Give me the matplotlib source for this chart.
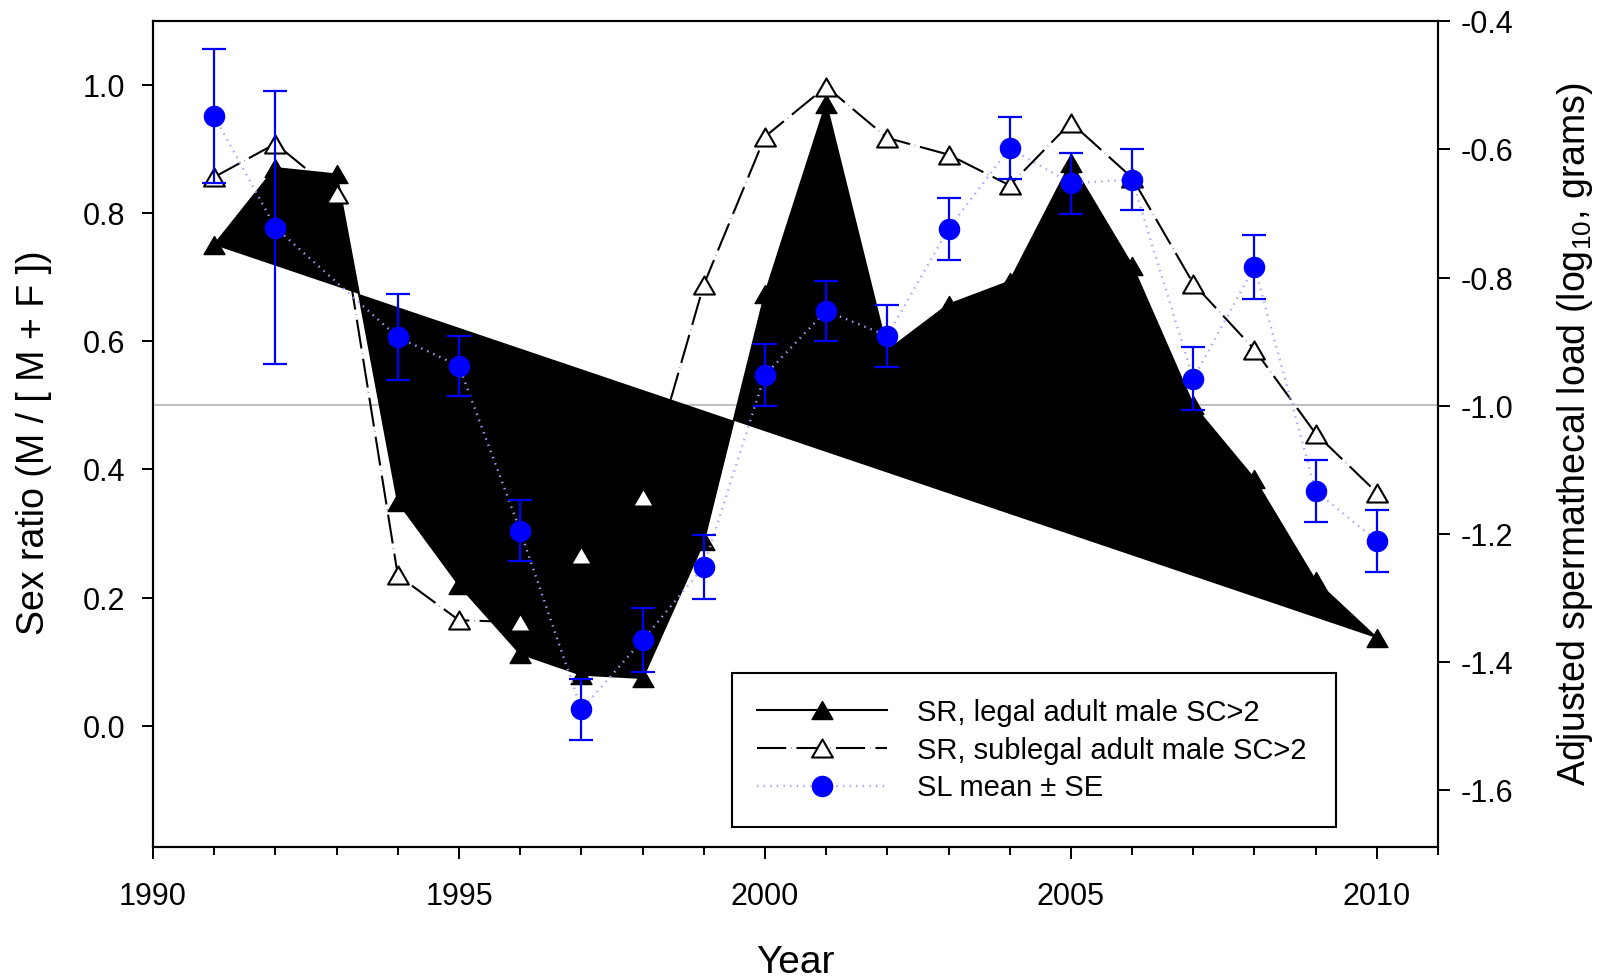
import numpy as np
import matplotlib
matplotlib.use("Agg")
import matplotlib.pyplot as plt
from matplotlib.lines import Line2D
from matplotlib.path import Path

plt.rcParams['font.family'] = ['Liberation Sans', 'DejaVu Sans']
plt.rcParams['mathtext.fontset'] = 'custom'
plt.rcParams['mathtext.rm'] = 'Liberation Sans'
plt.rcParams['mathtext.it'] = 'Liberation Sans:italic'
plt.rcParams['axes.unicode_minus'] = False

# Sex ratio data (left axis)
years = list(range(1991, 2011))
sr_legal = [0.75, 0.87, 0.86, 0.35, 0.22, 0.113, 0.08, 0.075, 0.288, 0.673,
            0.97, 0.585, 0.657, 0.693, 0.878, 0.718, 0.50, 0.385, 0.226, 0.137]
sr_sublegal = [0.856, 0.908, 0.83, 0.235, 0.165, 0.162, 0.266, 0.357, 0.688, 0.919,
               0.997, 0.917, 0.891, 0.843, 0.941, 0.855, 0.69, 0.587, 0.456, 0.364]

# Spermathecal load (right axis), no data for 1993
sl_years = [1991, 1992, 1994, 1995, 1996, 1997, 1998, 1999, 2000, 2001,
            2002, 2003, 2004, 2005, 2006, 2007, 2008, 2009, 2010]
sl_mean = [-0.548, -0.722, -0.893, -0.938, -1.195, -1.474, -1.366, -1.251, -0.952, -0.852,
           -0.891, -0.724, -0.598, -0.653, -0.647, -0.958, -0.783, -1.133, -1.211]
sl_se = [0.105, 0.213, 0.067, 0.047, 0.048, 0.047, 0.05, 0.05, 0.048, 0.047,
         0.048, 0.048, 0.048, 0.048, 0.048, 0.049, 0.05, 0.049, 0.048]

# equilateral triangle marker
tri = Path([(-1, -0.866), (1, -0.866), (0, 0.866), (-1, -0.866)], closed=True)
dash_sub = (0, (14, 2.4, 0.15, 2.4))
dot_sl = (0, (0.6, 2.2))
sl_line_col = '#a4a4ff'

fig = plt.figure(figsize=(16.01, 9.785), dpi=100)
ax = fig.add_axes([0.0956, 0.1343, 0.8026, 0.8435])
ax2 = ax.twinx()

ax.axhline(0.5, color='#c0c0c0', lw=1.5, zorder=0)

# black polygon from the legal series (closes back to the first point)
ax.fill(years, sr_legal, color='black', lw=0, zorder=1)
ax.plot(years, sr_legal, color='black', lw=1.5, marker=tri, ms=15,
        mfc='black', mec='black', zorder=2)
ax.plot(years, sr_sublegal, color='black', lw=1.5, ls=dash_sub,
        marker=tri, ms=15, mfc='white', mec='black', mew=1.5, zorder=3)

ax2.plot(sl_years, sl_mean, color=sl_line_col, lw=1.7, ls=dot_sl, zorder=2)
ax2.errorbar(sl_years, sl_mean, yerr=sl_se, fmt='none', ecolor='#0000ff',
             elinewidth=1.6, capsize=8.4, capthick=1.6, zorder=3)
ax2.plot(sl_years, sl_mean, ls='none', marker='o', ms=15.5, mfc='#0000ff',
         mec='#0000ff', mew=0, zorder=4)

ax.set_xlim(1990, 2011)
ax.set_ylim(-0.188, 1.099)
ax2.set_ylim(-1.688, -0.401)

ax.set_xticks([1990, 1995, 2000, 2005, 2010])
ax.set_xticks(range(1991, 2012), minor=True)
ax.set_yticks(np.arange(0, 1.01, 0.2))
ax.set_yticklabels(['%.1f' % v for v in np.arange(0, 1.01, 0.2)])
r_ticks = np.arange(-1.6, -0.39, 0.2)
ax2.set_yticks(r_ticks)
ax2.set_yticklabels(['%.1f' % v for v in r_ticks])

ax.tick_params(axis='x', which='major', direction='out', length=8.6, width=1.4,
               pad=16.5, labelsize=22)
ax.tick_params(axis='x', which='minor', direction='out', length=5.5, width=1.4)
ax.tick_params(axis='y', direction='out', length=8, width=1.4, pad=12, labelsize=22)
ax2.tick_params(axis='y', direction='out', length=8.6, width=1.4, pad=7.5, labelsize=22)
ax.tick_params(top=False, right=False)

for a in (ax, ax2):
    for s in a.spines.values():
        s.set_linewidth(1.5)

ax.set_xlabel('Year', fontsize=28)
ax.xaxis.set_label_coords(0.5, -0.119)
ax.set_ylabel('Sex ratio (M / [ M + F ])', fontsize=27)
ax.yaxis.set_label_coords(-0.079, 0.49)
ax2.set_ylabel('Adjusted spermathecal load (log$_{\\mathrm{10}}$, grams)', fontsize=27)
ax2.yaxis.set_label_coords(1.091, 0.5)

handles = [
    Line2D([], [], color='black', lw=1.5, marker=tri, ms=15, mfc='black', mec='black'),
    Line2D([], [], color='black', lw=1.5, ls=dash_sub, marker=tri, ms=15,
           mfc='white', mec='black', mew=1.5),
    Line2D([], [], color=sl_line_col, lw=1.7, ls=dot_sl, marker='o', ms=15.5,
           mfc='#0000ff', mec='#0000ff', mew=0),
]
labels = ['SR, legal adult male SC>2', 'SR, sublegal adult male SC>2', 'SL mean \u00b1 SE']
leg = ax2.legend(handles, labels, loc='lower left', bbox_to_anchor=(0.4506, 0.024, 0.47, 0.184),
                 mode='expand', fontsize=21, numpoints=1, handlelength=4.45,
                 handletextpad=1.05, labelspacing=0.34, borderpad=0.85, borderaxespad=0,
                 fancybox=False, framealpha=1, edgecolor='black')
leg.get_frame().set_linewidth(1.5)

fig.savefig('out.png', dpi=100)
